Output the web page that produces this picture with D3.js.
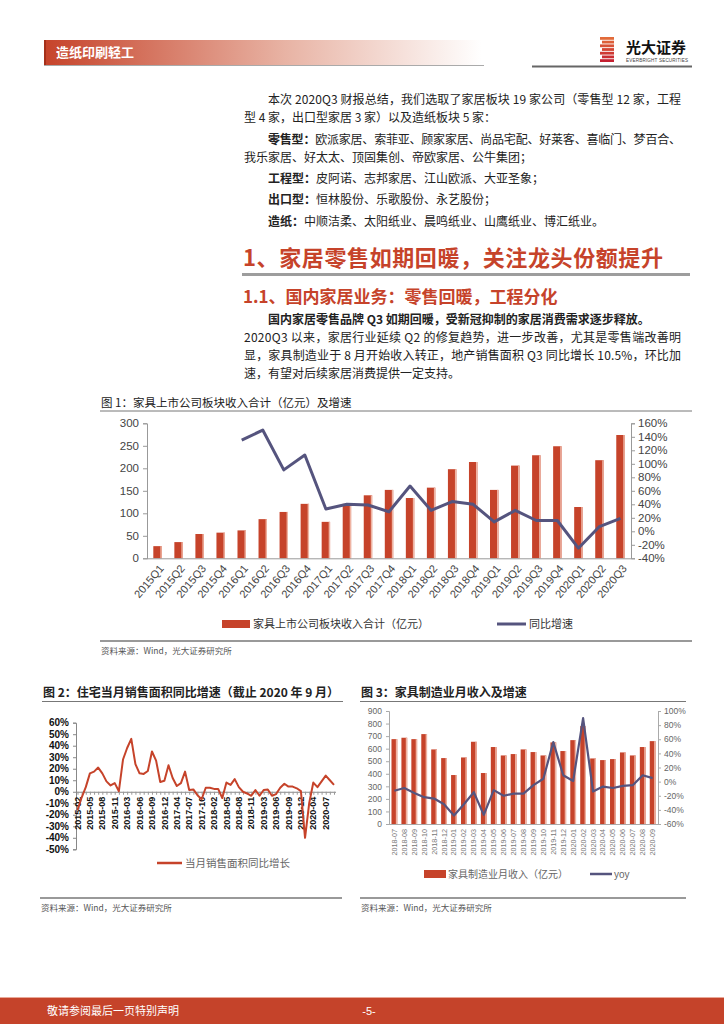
<!DOCTYPE html>
<html lang="zh">
<head>
<meta charset="UTF-8">
<title>造纸印刷轻工 - 5</title>
<style>
  body { margin: 0; background: #fff; }
  svg { display: block; }
  text { font-family: "Noto Sans CJK SC", "Liberation Sans", sans-serif; }
  .num { font-family: "Liberation Sans", Arial, sans-serif; }
</style>
</head>
<body>
<div id="page"></div>
<script src="https://cdn.jsdelivr.net/npm/d3@7"></script>
<script>
// ---- chart 1: quarterly revenue of listed furniture companies ----
const ch1Cats = ["2015Q1","2015Q2","2015Q3","2015Q4","2016Q1","2016Q2","2016Q3","2016Q4",
  "2017Q1","2017Q2","2017Q3","2017Q4","2018Q1","2018Q2","2018Q3","2018Q4",
  "2019Q1","2019Q2","2019Q3","2019Q4","2020Q1","2020Q2","2020Q3"];
const ch1Revenue = [27,36,54,57,62,87,103,121,81,121,140,152,134,157,198,214,152,206,229,249,114,218,274];
const ch1Growth = [null,null,null,null,135,150,91,113,33,40,39,29,67,31,44,40,14,31,16,16,-25,7,19];
const ch1LeftTicks = [0,50,100,150,200,250,300];
const ch1RightTicks = [-40,-20,0,20,40,60,80,100,120,140,160];

// ---- chart 2: monthly residential sales area yoy (Jan merged into Feb) ----
const ch2Values = [-16,-5,4,16,17.5,21,16,9,5.5,7.5,0.5,
  28,38,46,24,16,15.5,18,35,27,8.5,9.5,
  23,12,5,7.5,17.5,1.5,2,-3,-6.5,3.5,3.5,
  2.5,2.5,-5.5,8,6,11,4,0,-1.5,-3.5,1.5,
  -3.5,1.5,2,-3.5,-2,3.5,7,4.5,4.5,3,0.5,
  -40,-10,8,4,9,14,10,6];
const ch2TickLabels = ["2015-02","2015-05","2015-08","2015-11","2016-03","2016-06","2016-09",
  "2016-12","2017-04","2017-07","2017-10","2018-02","2018-05","2018-08","2018-11",
  "2019-03","2019-06","2019-09","2019-12","2020-04","2020-07"];
const ch2YTicks = [-50,-40,-30,-20,-10,0,10,20,30,40,50,60];

// ---- chart 3: furniture manufacturing monthly revenue and yoy ----
const ch3Cats = ["2018-07","2018-08","2018-09","2018-10","2018-11","2018-12",
  "2019-01","2019-02","2019-03","2019-04","2019-05","2019-06","2019-07","2019-08",
  "2019-09","2019-10","2019-11","2019-12","2020-01","2020-02","2020-03","2020-04",
  "2020-05","2020-06","2020-07","2020-08","2020-09"];
const ch3Revenue = [676,687,676,716,594,525,390,530,655,406,613,546,557,594,573,546,650,581,668,780,522,509,517,570,546,613,660];
const ch3Yoy = [-13,-9,-16,-22,-24,-32,-48,-32,-15,-47,-12,-20,-17,-17,-5,4,56,9,1,90,-14,-7,-9,-6,-5,9,5];
const ch3LeftTicks = [0,100,200,300,400,500,600,700,800,900];
const ch3RightTicks = [-60,-40,-20,0,20,40,60,80,100];

const RED = "#C6432A";
const NAVY = "#55547E";

const svg = d3.select("#page").append("svg")
  .attr("width", 724).attr("height", 1024);

svg.append("rect").attr("width", 724).attr("height", 1024).attr("fill", "#fff");

// ---------- page header ----------
const defs = svg.append("defs");
const hg = defs.append("linearGradient").attr("id", "hdr").attr("x1", 0).attr("x2", 1);
hg.append("stop").attr("offset", "0%").attr("stop-color", "#C6432A");
hg.append("stop").attr("offset", "55%").attr("stop-color", "#E8B3A4");
hg.append("stop").attr("offset", "100%").attr("stop-color", "#fff");

svg.append("rect").attr("x", 44).attr("y", 40).attr("width", 438).attr("height", 25).attr("fill", "url(#hdr)");
svg.append("rect").attr("x", 44).attr("y", 40).attr("width", 2).attr("height", 25).attr("fill", "#A5301A");
svg.append("line").attr("x1", 44).attr("x2", 484).attr("y1", 65.5).attr("y2", 65.5)
  .attr("stroke", "#aaa").attr("stroke-width", 1);
svg.append("text").attr("x", 56).attr("y", 57).attr("fill", "#fff")
  .attr("font-size", 13).attr("font-weight", "bold").text("造纸印刷轻工");

// logo
const logoStripes = [0, 1, 2, 3, 4, 5, 6];
svg.append("g").selectAll("rect").data(logoStripes).enter().append("rect")
  .attr("x", d => 600 + (d % 2) * 2)
  .attr("y", d => 37 + d * 3.7)
  .attr("width", d => 14 - (d % 2) * 2)
  .attr("height", 2.8)
  .attr("fill", (d, i) => d3.interpolateRgb("#E26B3A", "#C42030")(i / 6));
svg.append("text").attr("x", 626).attr("y", 53).attr("font-size", 15)
  .attr("font-weight", "bold").attr("fill", "#111").text("光大证券");
svg.append("text").attr("class", "num").attr("x", 626).attr("y", 61.5).attr("font-size", 4.6)
  .attr("fill", "#444").attr("textLength", 62).text("EVERBRIGHT SECURITIES");
svg.append("line").attr("x1", 532).attr("x2", 692).attr("y1", 66.5).attr("y2", 66.5)
  .attr("stroke", "#666").attr("stroke-width", 2);

// ---------- body text ----------
const body = svg.append("g").attr("font-size", 12).attr("fill", "#222");
function para(x, y, parts, width) {
  const t = body.append("text").attr("x", x).attr("y", y);
  parts.forEach(p => {
    t.append("tspan").attr("font-weight", p.b ? "bold" : null).text(p.t);
  });
  if (width) t.attr("textLength", width).attr("lengthAdjust", "spacing");
  return t;
}
const RIGHT = 681;
para(268, 104, [{t: "本次 2020Q3 财报总结，我们选取了家居板块 19 家公司（零售型 12 家，工程"}], RIGHT - 268);
para(244, 122, [{t: "型 4 家，出口型家居 3 家）以及造纸板块 5 家："}]);
para(268, 144, [{t: "零售型：", b: true}, {t: "欧派家居、索菲亚、顾家家居、尚品宅配、好莱客、喜临门、梦百合、"}], RIGHT - 268);
para(244, 162, [{t: "我乐家居、好太太、顶固集创、帝欧家居、公牛集团；"}]);
para(268, 183, [{t: "工程型：", b: true}, {t: "皮阿诺、志邦家居、江山欧派、大亚圣象；"}]);
para(268, 204, [{t: "出口型：", b: true}, {t: "恒林股份、乐歌股份、永艺股份；"}]);
para(268, 226, [{t: "造纸：", b: true}, {t: "中顺洁柔、太阳纸业、晨鸣纸业、山鹰纸业、博汇纸业。"}]);

svg.append("text").attr("x", 243).attr("y", 266).attr("font-size", 22).attr("font-weight", "bold")
  .attr("fill", RED).attr("textLength", 420).attr("lengthAdjust", "spacing")
  .text("1、家居零售如期回暖，关注龙头份额提升");
svg.append("line").attr("x1", 242).attr("x2", 690).attr("y1", 274.5).attr("y2", 274.5)
  .attr("stroke", "#9d9d9d").attr("stroke-width", 3);
svg.append("text").attr("x", 243).attr("y", 303).attr("font-size", 17).attr("font-weight", "bold")
  .attr("fill", RED).text("1.1、国内家居业务：零售回暖，工程分化");

para(268, 324, [{t: "国内家居零售品牌 Q3 如期回暖，受新冠抑制的家居消费需求逐步释放。", b: true}]);
para(244, 342, [{t: "2020Q3 以来，家居行业延续 Q2 的修复趋势，进一步改善，尤其是零售端改善明"}], RIGHT - 244);
para(244, 360, [{t: "显，家具制造业于 8 月开始收入转正，地产销售面积 Q3 同比增长 10.5%，环比加"}], RIGHT - 244);
para(244, 378, [{t: "速，有望对后续家居消费提供一定支持。"}]);

// ---------- helpers ----------
function styleAxis(g, opts) {
  g.select(".domain").attr("stroke", opts.line || "#999");
  g.selectAll(".tick line").attr("stroke", opts.line || "#999");
  g.selectAll(".tick text")
    .attr("class", "num")
    .attr("font-size", opts.size || 11)
    .attr("font-weight", opts.weight || null)
    .attr("fill", opts.color || "#444");
  return g;
}
function caption(x1, x2, y, text, bold) {
  svg.append("text").attr("x", x1 + 1).attr("y", y - 4.5).attr("font-size", bold ? 12 : 11.5)
    .attr("font-weight", bold ? "bold" : null).attr("fill", "#222").text(text);
  svg.append("line").attr("x1", x1).attr("x2", x2).attr("y1", y).attr("y2", y)
    .attr("stroke", "#777").attr("stroke-width", 1);
}
function source(x1, x2, y) {
  svg.append("line").attr("x1", x1).attr("x2", x2).attr("y1", y).attr("y2", y)
    .attr("stroke", "#999").attr("stroke-width", 2);
  svg.append("text").attr("x", x1 + 1).attr("y", y + 13).attr("font-size", 8.5)
    .attr("fill", "#555").text("资料来源：Wind，光大证券研究所");
}
function bars(g, cats, vals, x, y, color) {
  const grp = g.append("g");
  const bw = x.bandwidth();
  grp.selectAll("rect.b").data(vals).enter().append("rect").attr("class", "b")
    .attr("x", (d, i) => x(cats[i]))
    .attr("y", d => y(d))
    .attr("width", bw)
    .attr("height", d => y(0) - y(d))
    .attr("fill", color);
  // light right edge like the original 3D style
  grp.selectAll("rect.h").data(vals).enter().append("rect").attr("class", "h")
    .attr("x", (d, i) => x(cats[i]) + bw - 1.4)
    .attr("y", d => y(d))
    .attr("width", 1.4)
    .attr("height", d => y(0) - y(d))
    .attr("fill", "#EFB4A3");
}

// ---------- chart 1 ----------
caption(100, 692, 411, "图 1：家具上市公司板块收入合计（亿元）及增速");
{
  const g = svg.append("g");
  const x = d3.scaleBand().domain(ch1Cats).range([147, 631]).paddingInner(0.6).paddingOuter(0.3);
  const yL = d3.scaleLinear().domain([0, 300]).range([558.3, 423.3]);
  const yR = d3.scaleLinear().domain([-40, 160]).range([558.3, 423.3]);

  bars(g, ch1Cats, ch1Revenue, x, yL, RED);

  const line = d3.line()
    .defined(d => d !== null)
    .x((d, i) => x(ch1Cats[i]) + x.bandwidth() / 2)
    .y(d => yR(d));
  g.append("path").datum(ch1Growth).attr("d", line)
    .attr("fill", "none").attr("stroke", NAVY).attr("stroke-width", 3).attr("stroke-linejoin", "round");

  styleAxis(g.append("g").attr("transform", "translate(147,0)")
    .call(d3.axisLeft(yL).tickValues(ch1LeftTicks).tickSize(4).tickPadding(4)), {size: 11.5});
  styleAxis(g.append("g").attr("transform", "translate(631,0)")
    .call(d3.axisRight(yR).tickValues(ch1RightTicks).tickSize(4).tickPadding(3).tickFormat(d => d + "%")), {size: 11.5});
  const xa = g.append("g").attr("transform", "translate(0,558.3)")
    .call(d3.axisBottom(x).tickSize(0).tickPadding(0));
  styleAxis(xa, {size: 11});
  xa.select(".domain").attr("d", "M147,0.5H631");
  xa.selectAll(".tick text")
    .attr("text-anchor", "end")
    .attr("dy", "0.35em")
    .attr("transform", "translate(4,8) rotate(-50)");

  // legend
  const lg = svg.append("g").attr("font-size", 11).attr("fill", "#333");
  lg.append("rect").attr("x", 222).attr("y", 620).attr("width", 28).attr("height", 8).attr("fill", RED);
  lg.append("text").attr("x", 253).attr("y", 628).text("家具上市公司板块收入合计（亿元）");
  lg.append("line").attr("x1", 497).attr("x2", 526).attr("y1", 624).attr("y2", 624)
    .attr("stroke", NAVY).attr("stroke-width", 3);
  lg.append("text").attr("x", 529).attr("y", 628).text("同比增速");
}
source(100, 692, 641);

// ---------- chart 2 ----------
caption(42, 343, 701.5, "图 2：住宅当月销售面积同比增速（截止 2020 年 9 月）", true);
{
  const g = svg.append("g");
  const idx = ch2Values.map((d, i) => i);
  const x = d3.scalePoint().domain(idx).range([77.5, 334]);
  const y = d3.scaleLinear().domain([-50, 60]).range([849.3, 722.7]);

  styleAxis(g.append("g").attr("transform", "translate(76,0)")
    .call(d3.axisLeft(y).tickValues(ch2YTicks).tickSize(3).tickPadding(4).tickFormat(d => d + "%")),
    {size: 10, weight: "bold", color: "#111", line: "#888"});

  const xa = g.append("g").attr("transform", `translate(0,${y(0)})`)
    .call(d3.axisBottom(x).tickSize(3).tickFormat(""));
  xa.select(".domain").attr("d", `M76,0.5H336`).attr("stroke", "#888");
  xa.selectAll(".tick line").attr("stroke", "#999");

  g.append("g").selectAll("text").data(ch2TickLabels).enter().append("text")
    .attr("class", "num")
    .attr("transform", (d, i) => `translate(${x(i * 3)},${y(0) + 5}) rotate(-90)`)
    .attr("text-anchor", "end")
    .attr("dy", "0.35em")
    .attr("font-size", 9).attr("font-weight", "bold").attr("fill", "#111")
    .text(d => d);

  g.append("path").datum(ch2Values)
    .attr("d", d3.line().x((d, i) => x(i)).y(d => y(d)))
    .attr("fill", "none").attr("stroke", RED).attr("stroke-width", 2).attr("stroke-linejoin", "round");

  g.append("line").attr("x1", 157).attr("x2", 182).attr("y1", 863).attr("y2", 863)
    .attr("stroke", RED).attr("stroke-width", 2.5);
  g.append("text").attr("x", 185).attr("y", 867).attr("font-size", 10.5).attr("fill", "#666")
    .text("当月销售面积同比增长");
}
source(40, 342, 898);

// ---------- chart 3 ----------
caption(360, 686, 701.5, "图 3：家具制造业月收入及增速", true);
{
  const g = svg.append("g");
  const x = d3.scaleBand().domain(ch3Cats).range([389, 658]).paddingInner(0.42).paddingOuter(0.25);
  const yL = d3.scaleLinear().domain([0, 900]).range([824, 711]);
  const yR = d3.scaleLinear().domain([-60, 100]).range([824, 711]);

  bars(g, ch3Cats, ch3Revenue, x, yL, RED);

  g.append("path").datum(ch3Yoy)
    .attr("d", d3.line().x((d, i) => x(ch3Cats[i]) + x.bandwidth() / 2).y(d => yR(d)))
    .attr("fill", "none").attr("stroke", NAVY).attr("stroke-width", 2.2).attr("stroke-linejoin", "round");

  styleAxis(g.append("g").attr("transform", "translate(389,0)")
    .call(d3.axisLeft(yL).tickValues(ch3LeftTicks).tickSize(3).tickPadding(4)),
    {size: 8.5, color: "#666", line: "#aaa"});
  styleAxis(g.append("g").attr("transform", "translate(658,0)")
    .call(d3.axisRight(yR).tickValues(ch3RightTicks).tickSize(3).tickPadding(3).tickFormat(d => d + "%")),
    {size: 8.5, color: "#666", line: "#aaa"});
  g.append("line").attr("x1", 389).attr("x2", 658).attr("y1", 824.5).attr("y2", 824.5).attr("stroke", "#aaa");

  g.append("g").selectAll("text").data(ch3Cats).enter().append("text")
    .attr("class", "num")
    .attr("transform", d => `translate(${x(d) + x.bandwidth() / 2},829) rotate(-90)`)
    .attr("text-anchor", "end")
    .attr("dy", "0.35em")
    .attr("font-size", 7.2).attr("fill", "#777")
    .text(d => d);

  g.append("rect").attr("x", 424).attr("y", 870).attr("width", 22).attr("height", 8).attr("fill", RED);
  g.append("text").attr("x", 448).attr("y", 877.5).attr("font-size", 10).attr("fill", "#666")
    .text("家具制造业月收入（亿元）");
  g.append("line").attr("x1", 590).attr("x2", 612).attr("y1", 874).attr("y2", 874)
    .attr("stroke", NAVY).attr("stroke-width", 2.5);
  g.append("text").attr("class", "num").attr("x", 614).attr("y", 877.5).attr("font-size", 10).attr("fill", "#666")
    .text("yoy");
}
source(360, 686, 898);

// ---------- footer ----------
svg.append("rect").attr("x", 0).attr("y", 998).attr("width", 724).attr("height", 26).attr("fill", "#C5432A");
svg.append("line").attr("x1", 0).attr("x2", 724).attr("y1", 997.5).attr("y2", 997.5)
  .attr("stroke", "#E9A898").attr("stroke-width", 1);
svg.append("text").attr("x", 47).attr("y", 1015).attr("font-size", 11).attr("fill", "#fff")
  .text("敬请参阅最后一页特别声明");
svg.append("text").attr("class", "num").attr("x", 369).attr("y", 1015).attr("font-size", 11)
  .attr("text-anchor", "middle").attr("fill", "#fff").text("-5-");
</script>
</body>
</html>
